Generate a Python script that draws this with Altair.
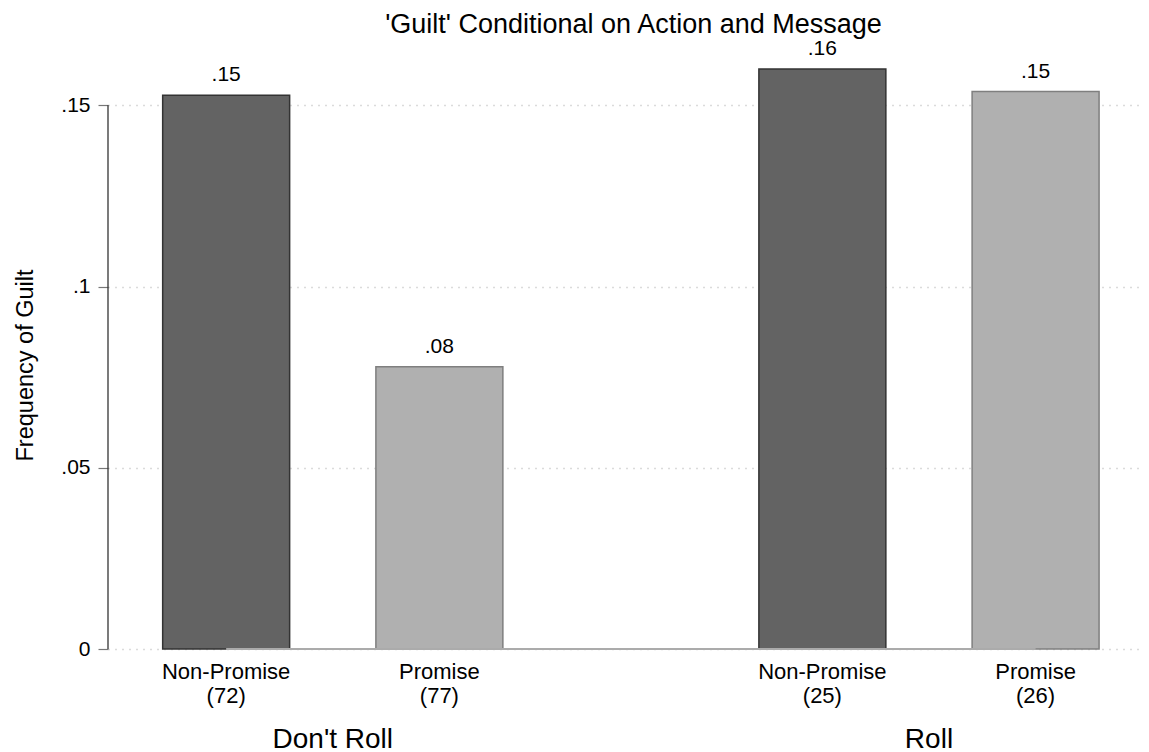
import altair as alt
import pandas as pd

# ---- data ----
actions = ["Don't Roll", "Don't Roll", "Roll", "Roll"]
messages = ["Non-Promise", "Promise", "Non-Promise", "Promise"]
counts = [72, 77, 25, 26]
guilt = [0.1528, 0.0779, 0.16, 0.1538]
value_labels = [".15", ".08", ".16", ".15"]
y_ticks = [0, 0.05, 0.1, 0.15]
action_order = ["Don't Roll", "Roll"]
message_order = ["Non-Promise", "Promise"]

df = pd.DataFrame({
    "action": actions,
    "message": messages,
    "n": counts,
    "guilt": guilt,
    "label": value_labels,
})
df["sub"] = [f"{m}\n({n})" for m, n in zip(messages, counts)]

FONT = "Liberation Sans"

x_enc = alt.X(
    "action:N",
    sort=action_order,
    scale=alt.Scale(paddingInner=0.4294, paddingOuter=0.081, align=0.566),
    axis=alt.Axis(
        title=None, labelAngle=0, ticks=False, tickSize=0, domain=False, grid=False,
        labelBaseline="alphabetic", labelPadding=98,
        labelFontSize=28, labelColor="black", labelFont=FONT,
    ),
)
xo_enc = alt.XOffset(
    "message:N", sort=message_order,
    scale=alt.Scale(paddingInner=0.4045, paddingOuter=0),
)
y_scale = alt.Scale(domain=[0, 0.165], nice=False, zero=True)
y_enc = alt.Y(
    "guilt:Q",
    scale=y_scale,
    axis=alt.Axis(
        values=y_ticks,
        labelExpr="datum.value == 0 ? '0' : substring(format(datum.value, '.2~f'), 1)",
        title="Frequency of Guilt",
        titleFont=FONT, titleFontSize=23.5, titleFontWeight="normal", titleColor="black",
        titleX=-71, titleY=314,
        labelFont=FONT, labelFontSize=21, labelColor="black", labelPadding=8,
        domain=False, ticks=True, tickSize=10, tickColor="#777777", tickWidth=1.2,
        grid=True, gridDash=[1, 6], gridColor="#b8b8b8", gridWidth=1.3,
    ),
)

base = alt.Chart(df)

bars = base.mark_bar(strokeWidth=1.5).encode(
    x=x_enc,
    xOffset=xo_enc,
    y=y_enc,
    fill=alt.Fill("message:N", sort=message_order,
                  scale=alt.Scale(domain=message_order, range=["#636363", "#b0b0b0"]),
                  legend=None),
    stroke=alt.Stroke("message:N", sort=message_order,
                      scale=alt.Scale(domain=message_order, range=["#333333", "#7f7f7f"]),
                      legend=None),
)

baseline = base.mark_line(color="#ababab", strokeWidth=2).encode(
    x=x_enc,
    xOffset=xo_enc,
    y=alt.datum(0, scale=y_scale),
)

value_text = base.mark_text(
    baseline="alphabetic", dy=-14, fontSize=21, font=FONT, color="black"
).encode(
    x=x_enc,
    xOffset=xo_enc,
    y=y_enc,
    text="label:N",
)

sub_text = base.mark_text(
    baseline="top", dy=13, fontSize=22, font=FONT, color="black",
    lineBreak="\n", lineHeight=24,
).encode(
    x=x_enc,
    xOffset=xo_enc,
    y=alt.datum(0, scale=y_scale),
    text="sub:N",
)

axis_line = alt.Chart(pd.DataFrame({"a": [0]})).mark_rule(
    color="#333333", strokeWidth=1.3
).encode(
    x=alt.value(0),
    y=alt.datum(0),
    y2=alt.datum(0.15),
)

chart = alt.layer(bars, baseline, value_text, sub_text, axis_line).properties(
    width=1033,
    height=598,
    title=alt.TitleParams(
        "'Guilt' Conditional on Action and Message",
        font=FONT, fontSize=27, fontWeight="normal", color="black",
        anchor="middle", offset=18, dx=9, dy=19,
    ),
    autosize=alt.AutoSizeParams(type="none"),
    padding={"left": 100, "top": 43, "right": 0, "bottom": 103},
    background="white",
).configure_view(stroke=None)

chart.save("out.html", embed_options={"renderer": "svg", "actions": False})
